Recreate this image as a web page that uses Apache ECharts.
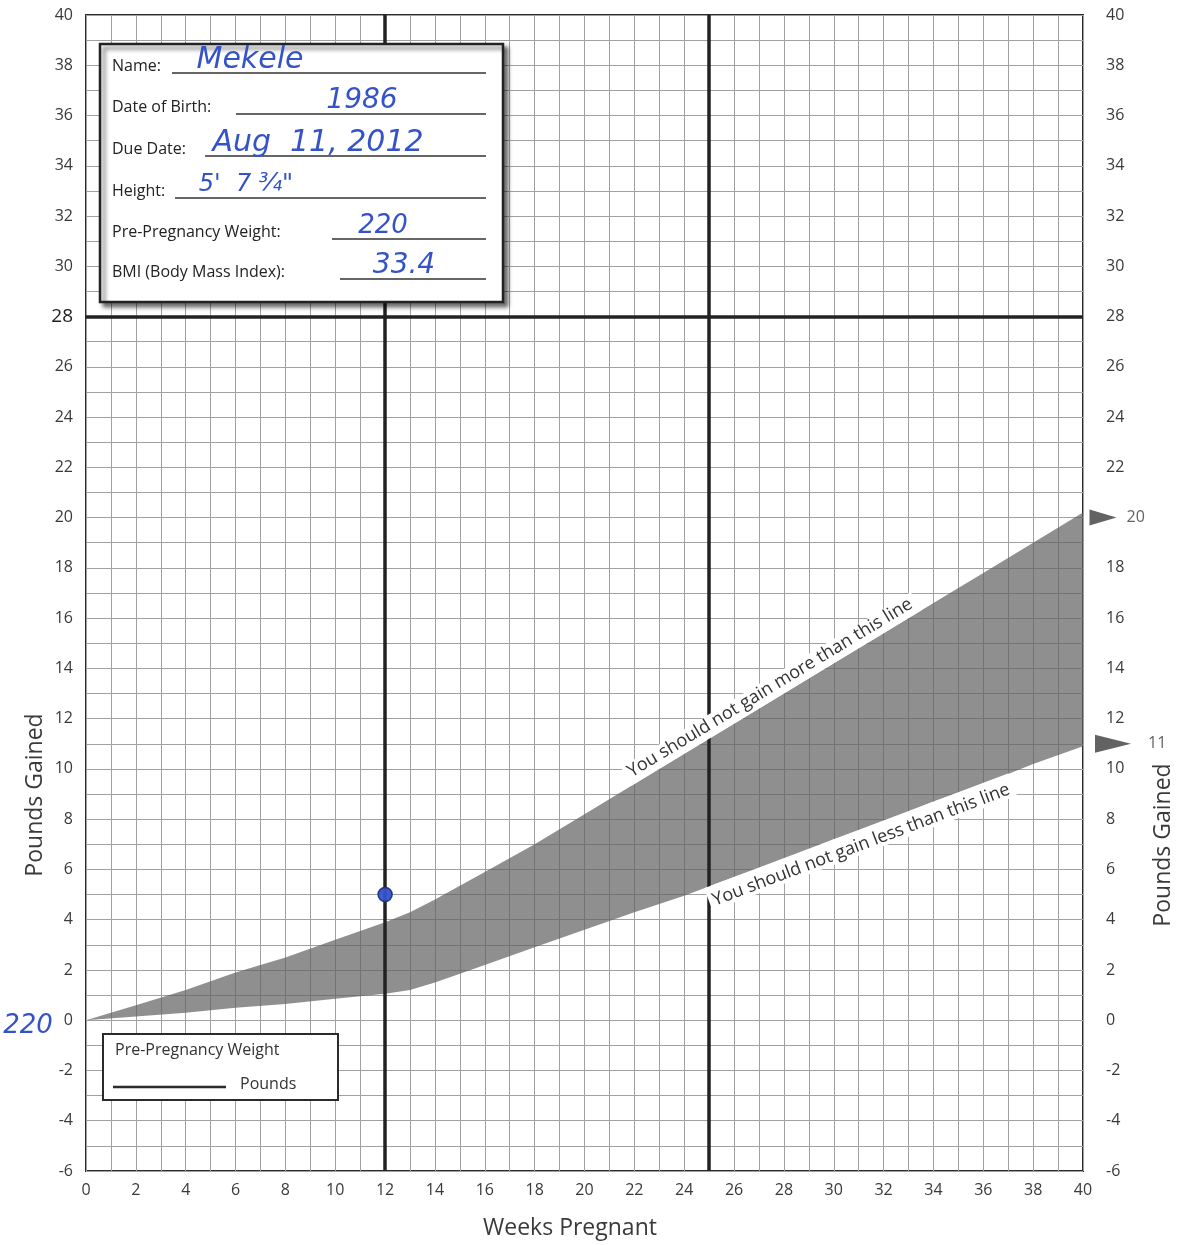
<!DOCTYPE html>
<html>
<head>
<meta charset="utf-8">
<script src="https://cdn.jsdelivr.net/npm/echarts@6/dist/echarts.min.js"></script>
<style>
  html, body { margin: 0; padding: 0; background: #fff; }
  #chart { width: 1178px; height: 1245px; }
</style>
</head>
<body>
<div id="chart"></div>
<script>
// weeks pregnant vs. recommended gain band (lbs)
const weeks     = [0, 2, 4, 6, 8, 10, 12, 13, 14, 16, 18, 20, 22, 24, 26, 28, 30, 32, 34, 36, 38, 40];
const upperGain = [0, 0.6, 1.2, 1.9, 2.5, 3.2, 3.9, 4.3, 4.8, 5.9, 7.0, 8.2, 9.4, 10.6, 11.8, 13.0, 14.2, 15.4, 16.6, 17.8, 19.0, 20.2];
const lowerGain = [0, 0.15, 0.3, 0.5, 0.65, 0.85, 1.05, 1.2, 1.5, 2.2, 2.9, 3.6, 4.3, 4.95, 5.7, 6.4, 7.2, 7.9, 8.7, 9.4, 10.2, 10.9];

// recorded visits
const visitWeeks = [12];
const visitGain  = [5];

// target markers on the right edge
const targetGain   = [20, 11];
const dividerWeeks = [12, 25];
const dividerGain  = [28];

const infoLabels = ['Name:', 'Date of Birth:', 'Due Date:', 'Height:', 'Pre-Pregnancy Weight:', 'BMI (Body Mass Index):'];
const infoValues = ['Mekele', '1986', 'Aug  11, 2012', '5\'  7 ¾"', '220', '33.4'];
const prePregWeight = '220';

const upperText = 'You should not gain more than this line';
const lowerText = 'You should not gain less than this line';

const FONT = '"Open Sans", "Noto Sans", sans-serif';
const HAND = '"DejaVu Sans", sans-serif';
const INK = '#3553c9';

const myChart = echarts.init(document.getElementById('chart'));

const bandData = weeks.map((w, i) => [w, lowerGain[i], upperGain[i]]);

const gridLine = { show: true, lineStyle: { color: '#a0a0a0', width: 1 } };

const option = {
  animation: false,
  grid: {
    left: 86, right: 95, top: 15, bottom: 74,
    show: true, borderColor: '#2b2b2b', borderWidth: 2, backgroundColor: '#fff'
  },
  xAxis: {
    type: 'value', min: 0, max: 40, interval: 2,
    axisLine: { show: false }, axisTick: { show: false },
    axisLabel: { fontFamily: FONT, fontSize: 16, color: '#3a3a3a', margin: 11 },
    splitLine: gridLine,
    minorTick: { show: false, splitNumber: 2 },
    minorSplitLine: gridLine
  },
  yAxis: [{
    type: 'value', min: -6, max: 40, interval: 2, position: 'left',
    axisLine: { show: false }, axisTick: { show: false },
    axisLabel: {
      fontFamily: FONT, fontSize: 16, color: '#3a3a3a', margin: 13,
      formatter: v => v === 28 ? '{big|28}' : String(v),
      rich: { big: { fontFamily: FONT, fontSize: 19, color: '#222' } }
    },
    splitLine: gridLine,
    minorTick: { show: false, splitNumber: 2 },
    minorSplitLine: gridLine
  }, {
    type: 'value', min: -6, max: 40, interval: 2, position: 'right',
    axisLine: { show: false }, axisTick: { show: false }, splitLine: { show: false },
    axisLabel: {
      fontFamily: FONT, fontSize: 16, color: '#3a3a3a', margin: 23,
      formatter: v => targetGain.indexOf(v) >= 0 ? '' : String(v)
    }
  }],
  series: [
    {
      name: 'band', type: 'custom', data: bandData, z: 3,
      encode: { x: 0, y: [1, 2] },
      renderItem: (params, api) => {
        if (params.dataIndex !== 0) return null;
        const top = [], bottom = [];
        for (let i = 0; i < params.dataInsideLength; i++) {
          top.push(api.coord([bandData[i][0], bandData[i][2]]));
          bottom.unshift(api.coord([bandData[i][0], bandData[i][1]]));
        }
        return {
          type: 'polygon',
          shape: { points: top.concat(bottom) },
          style: { fill: '#606060', opacity: 0.7 }
        };
      }
    },
    {
      name: 'dividers', type: 'line', data: [], z: 4,
      markLine: {
        silent: true, symbol: ['none', 'none'], label: { show: false },
        lineStyle: { color: '#222', width: 3.5, type: 'solid' },
        data: dividerWeeks.map(w => ({ xAxis: w })).concat(dividerGain.map(g => ({ yAxis: g })))
      }
    },
    {
      name: 'visits', type: 'scatter', z: 6,
      data: visitWeeks.map((w, i) => [w, visitGain[i]]),
      symbolSize: 14,
      itemStyle: { color: INK, borderColor: '#1f2f8a', borderWidth: 1.5, opacity: 0.95 }
    },
    {
      name: 'targets', type: 'scatter', clip: false, z: 6,
      data: targetGain.map((g, i) => ({
        value: [40, g],
        symbolOffset: [i === 0 ? 20 : 30, 0],
        symbolSize: i === 0 ? [16, 27] : [18, 36],
        label: { distance: i === 0 ? 10 : 17 }
      })),
      symbol: 'triangle', symbolRotate: -90,
      itemStyle: { color: '#3c3c3c' },
      label: {
        show: true, position: 'right', formatter: p => String(p.value[1]),
        fontFamily: FONT, fontSize: 16, color: '#3a3a3a'
      }
    }
  ]
};

myChart.setOption(option);

// annotations that follow the band
const px = (w, g) => myChart.convertToPixel({ gridIndex: 0 }, [w, g]);
const interp = (arr, w) => {
  for (let i = 1; i < weeks.length; i++) {
    if (w <= weeks[i]) {
      const t = (w - weeks[i - 1]) / (weeks[i] - weeks[i - 1]);
      return arr[i - 1] + t * (arr[i] - arr[i - 1]);
    }
  }
  return arr[arr.length - 1];
};
const angleOf = (arr, a, b) => {
  const p1 = px(a, interp(arr, a)), p2 = px(b, interp(arr, b));
  return Math.atan2(p1[1] - p2[1], p2[0] - p1[0]);
};

const upAnchor = px(21.9, interp(upperGain, 21.9));
const loAnchor = px(24.8, interp(lowerGain, 24.8));

const graphics = [
  {
    type: 'text', x: upAnchor[0], y: upAnchor[1], rotation: angleOf(upperGain, 20, 36), z: 20,
    style: {
      text: upperText, font: '18px ' + FONT, fill: '#333',
      align: 'left', verticalAlign: 'bottom',
      backgroundColor: '#fff', padding: [0, 5, 3, 4]
    }
  },
  {
    type: 'text', x: loAnchor[0], y: loAnchor[1], rotation: angleOf(lowerGain, 24, 38), z: 20,
    style: {
      text: lowerText, font: '18px ' + FONT, fill: '#333',
      align: 'left', verticalAlign: 'top',
      backgroundColor: '#fff', padding: [6, 5, 0, 4]
    }
  },
  // axis titles
  {
    type: 'text', x: 35, y: 795, rotation: Math.PI / 2, z: 20,
    style: { text: 'Pounds Gained', font: '23px ' + FONT, fill: '#3a3a3a', align: 'center', verticalAlign: 'middle' }
  },
  {
    type: 'text', x: 1163, y: 845, rotation: Math.PI / 2, z: 20,
    style: { text: 'Pounds Gained', font: '23px ' + FONT, fill: '#3a3a3a', align: 'center', verticalAlign: 'middle' }
  },
  {
    type: 'text', x: 570, y: 1228, z: 20,
    style: { text: 'Weeks Pregnant', font: '23px ' + FONT, fill: '#3a3a3a', align: 'center', verticalAlign: 'middle' }
  },
  // handwritten starting weight
  {
    type: 'text', x: 28, y: 1026, z: 20,
    style: { text: prePregWeight, font: 'italic 26px ' + HAND, fill: INK, align: 'center', verticalAlign: 'middle' }
  },
  // legend box
  {
    type: 'rect', shape: { x: 103, y: 1034, width: 235, height: 66 }, z: 15,
    style: { fill: '#fff', stroke: '#2b2b2b', lineWidth: 2 }
  },
  {
    type: 'text', x: 115, y: 1050, z: 16,
    style: { text: 'Pre-Pregnancy Weight', font: '16px ' + FONT, fill: '#333', verticalAlign: 'middle' }
  },
  {
    type: 'line', shape: { x1: 113, y1: 1087, x2: 226, y2: 1087 }, z: 16,
    style: { stroke: '#2b2b2b', lineWidth: 2.5 }
  },
  {
    type: 'text', x: 240, y: 1084, z: 16,
    style: { text: 'Pounds', font: '16px ' + FONT, fill: '#333', verticalAlign: 'middle' }
  },
  // info box
  {
    type: 'rect', shape: { x: 100, y: 44, width: 403, height: 258 }, z: 15,
    style: {
      fill: '#fff', stroke: '#222', lineWidth: 2.5,
      shadowBlur: 4, shadowOffsetX: 4, shadowOffsetY: 4, shadowColor: 'rgba(0,0,0,0.55)'
    }
  }
];

const rowY = [66, 107, 149, 191, 232, 272];
const lineStart = [172, 236, 205, 175, 332, 340];
const valueX = [250, 362, 318, 246, 383, 404];
const valueSize = [30, 28, 30, 24, 26, 28];
infoLabels.forEach((lab, i) => {
  graphics.push({
    type: 'text', x: 112, y: rowY[i], z: 16,
    style: { text: lab, font: '16px ' + FONT, fill: '#222', verticalAlign: 'middle' }
  });
  graphics.push({
    type: 'line', shape: { x1: lineStart[i], y1: rowY[i] + 7, x2: 486, y2: rowY[i] + 7 }, z: 16,
    style: { stroke: '#333', lineWidth: 1.3 }
  });
  graphics.push({
    type: 'text', x: valueX[i], y: rowY[i] - 6, z: 17,
    style: { text: infoValues[i], font: 'italic ' + valueSize[i] + 'px ' + HAND, fill: INK, align: 'center', verticalAlign: 'middle' }
  });
});

myChart.setOption({ graphic: graphics });
</script>
</body>
</html>
